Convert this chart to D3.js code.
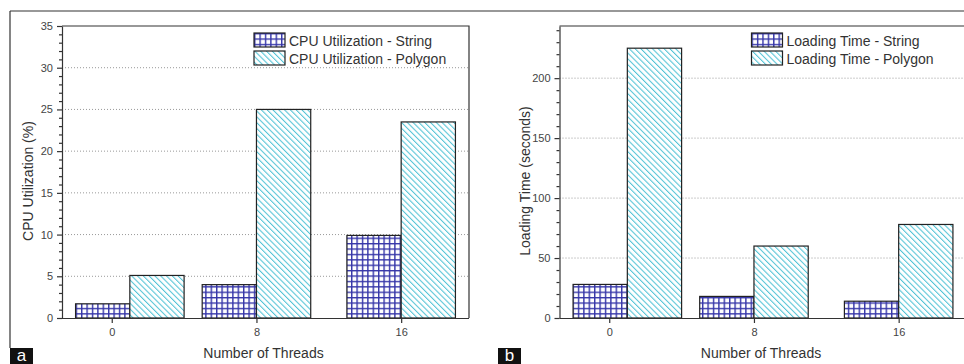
<!DOCTYPE html>
<html lang="en">
<head>
<meta charset="UTF-8">
<title>CPU Utilization and Loading Time</title>
<script src="https://cdn.jsdelivr.net/npm/d3@7"></script>
<style>
    body {
        margin: 0;
        padding: 0;
        background: #ffffff;
    }
    svg {
        display: block;
        font-family: "Liberation Sans", Arial, sans-serif;
    }
    .tick text {
        font-size: 11px;
        fill: #444444;
    }
    .axis path, .axis line {
        stroke: #333333;
        stroke-width: 1.2px;
    }
    .grid line {
        stroke: #999999;
        stroke-width: 1px;
        stroke-dasharray: 1,2;
    }
    .axis-title {
        font-size: 14px;
        fill: #333333;
        text-anchor: middle;
    }
    .legend text {
        font-size: 14px;
        fill: #333333;
    }
</style>
</head>
<body>
<div id="chart"></div>
<script>
// number of threads where bars sit, and the labelled ticks on the x axis
const threads = [1, 8, 16];
const threadTicks = [0, 8, 16];

// panel a: CPU utilization (%)
const cpuString = [1.7, 4.0, 9.9];
const cpuPolygon = [5.1, 25.0, 23.5];
const cpuTicks = [0, 5, 10, 15, 20, 25, 30, 35];

// panel b: loading time (seconds)
const loadString = [28, 18, 14];
const loadPolygon = [225, 60, 78];
const loadTicks = [0, 50, 100, 150, 200];

const W = 964, H = 364;
const barW = 3; // bar width in thread units

const svg = d3.select("#chart").append("svg")
    .attr("width", W)
    .attr("height", H);

// fill patterns
const defs = svg.append("defs");

const grid = defs.append("pattern")
    .attr("id", "pat-string")
    .attr("patternUnits", "userSpaceOnUse")
    .attr("width", 5.4)
    .attr("height", 5.4);
grid.append("rect").attr("width", 5.4).attr("height", 5.4).attr("fill", "#ffffff");
grid.append("path")
    .attr("d", "M0.7,0 V5.4 M0,0.7 H5.4")
    .attr("stroke", "#3535a8")
    .attr("stroke-width", 1.4);

const hatch = defs.append("pattern")
    .attr("id", "pat-polygon")
    .attr("patternUnits", "userSpaceOnUse")
    .attr("width", 4.1)
    .attr("height", 4.1)
    .attr("patternTransform", "rotate(-45)");
hatch.append("rect").attr("width", 4.1).attr("height", 4.1).attr("fill", "#ffffff");
hatch.append("line")
    .attr("x1", 0.5).attr("y1", 0).attr("x2", 0.5).attr("y2", 4.1)
    .attr("stroke", "#52c3d6")
    .attr("stroke-width", 1.1);

// outer frame lines
svg.append("line").attr("x1", 10).attr("x2", W).attr("y1", 11).attr("y2", 11)
    .attr("stroke", "#333").attr("stroke-width", 1.2);
svg.append("line").attr("x1", 10).attr("x2", 10).attr("y1", 11).attr("y2", 348)
    .attr("stroke", "#333").attr("stroke-width", 1.2);

function drawPanel(p) {
    const x = d3.scaleLinear().domain([-2.75, 19.75]).range([p.left, p.right]);
    const y = d3.scaleLinear().domain([0, p.yMax]).range([318, 26]);

    const g = svg.append("g");

    // dotted grid
    g.append("g").attr("class", "grid")
        .selectAll("line")
        .data(p.ticks.filter(t => t > 0 && y(t) > 30))
        .join("line")
        .attr("x1", p.left).attr("x2", p.right)
        .attr("y1", d => y(d)).attr("y2", d => y(d));

    // bars
    const rows = threads.map((t, i) => ({ t: t, s: p.string[i], q: p.polygon[i] }));
    g.selectAll("rect.str")
        .data(rows)
        .join("rect")
        .attr("class", "str")
        .attr("x", d => x(d.t - barW))
        .attr("width", d => x(d.t) - x(d.t - barW))
        .attr("y", d => y(d.s))
        .attr("height", d => y(0) - y(d.s))
        .attr("fill", "url(#pat-string)")
        .attr("stroke", "#222")
        .attr("stroke-width", 1.2);
    g.selectAll("rect.poly")
        .data(rows)
        .join("rect")
        .attr("class", "poly")
        .attr("x", d => x(d.t))
        .attr("width", d => x(d.t + barW) - x(d.t))
        .attr("y", d => y(d.q))
        .attr("height", d => y(0) - y(d.q))
        .attr("fill", "url(#pat-polygon)")
        .attr("stroke", "#222")
        .attr("stroke-width", 1.2);

    // top and right frame
    g.append("path")
        .attr("d", `M${p.left},26 H${p.right} V318`)
        .attr("fill", "none")
        .attr("stroke", "#333")
        .attr("stroke-width", 1.2);

    // y axis: minor then major
    g.append("g").attr("class", "axis")
        .attr("transform", `translate(${p.left},0)`)
        .call(d3.axisLeft(y).tickValues(p.minor).tickSize(3).tickSizeOuter(0).tickFormat(""))
        .select(".domain").remove();
    g.append("g").attr("class", "axis")
        .attr("transform", `translate(${p.left},0)`)
        .call(d3.axisLeft(y).tickValues(p.ticks).tickSize(5).tickSizeOuter(0).tickPadding(4));

    // x axis
    const xa = g.append("g").attr("class", "axis")
        .attr("transform", "translate(0,318)")
        .call(d3.axisBottom(x).tickValues(threadTicks).tickSize(5).tickSizeOuter(0).tickPadding(5));
    xa.select(".domain").attr("d", `M${p.left},0.5 H${p.right}`);

    // axis titles
    g.append("text").attr("class", "axis-title")
        .attr("x", (p.left + p.right) / 2 - 2)
        .attr("y", 358)
        .text("Number of Threads");
    g.append("text").attr("class", "axis-title")
        .attr("transform", `translate(${p.left - 34},181) rotate(-90)`)
        .attr("dy", "0.35em")
        .text(p.yTitle);

    // legend
    const lg = g.append("g").attr("class", "legend")
        .attr("transform", `translate(${p.left + 192},33)`);
    const items = [
        { name: p.name + " - String", fill: "url(#pat-string)" },
        { name: p.name + " - Polygon", fill: "url(#pat-polygon)" }
    ];
    const li = lg.selectAll("g").data(items).join("g")
        .attr("transform", (d, i) => `translate(0,${i * 18})`);
    li.append("rect")
        .attr("width", 31).attr("height", 14)
        .attr("fill", d => d.fill)
        .attr("stroke", "#222").attr("stroke-width", 1.2);
    li.append("text")
        .attr("x", 35).attr("y", 12.5)
        .text(d => d.name);

    // panel letter
    svg.append("rect")
        .attr("x", p.tagX).attr("y", 348)
        .attr("width", 23).attr("height", 16)
        .attr("fill", "#111");
    svg.append("text")
        .attr("x", p.tagX + 11.5).attr("y", 361)
        .attr("text-anchor", "middle")
        .attr("fill", "#ffffff")
        .style("font-size", "17px")
        .text(p.tag);
}

drawPanel({
    left: 62, right: 469, yMax: 35,
    string: cpuString, polygon: cpuPolygon,
    ticks: cpuTicks,
    minor: d3.range(0, 36, 1).filter(v => v % 5 !== 0),
    yTitle: "CPU Utilization (%)",
    name: "CPU Utilization",
    tag: "a", tagX: 10
});

drawPanel({
    left: 559.5, right: 966.5, yMax: 243.5,
    string: loadString, polygon: loadPolygon,
    ticks: loadTicks,
    minor: d3.range(0, 244, 10).filter(v => v % 50 !== 0),
    yTitle: "Loading Time (seconds)",
    name: "Loading Time",
    tag: "b", tagX: 498
});
</script>
</body>
</html>
